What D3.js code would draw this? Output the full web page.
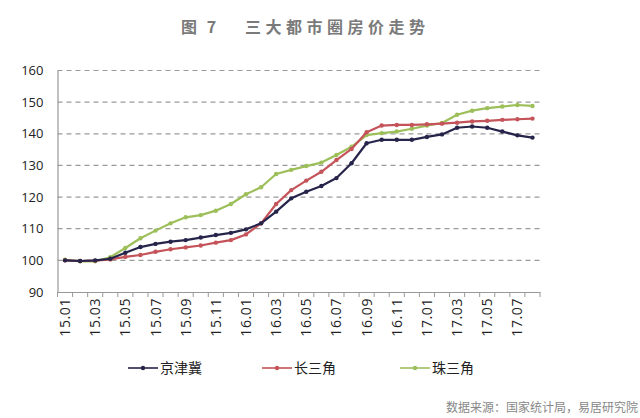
<!DOCTYPE html>
<html><head><meta charset="utf-8">
<script src="https://cdn.jsdelivr.net/npm/d3@7/dist/d3.min.js"></script>
<style>
html,body{margin:0;padding:0;background:#fff;}
svg{display:block;}
</style></head>
<body>
<svg id="chart" width="640" height="418"></svg>
<script>
const months = ["15.01","15.02","15.03","15.04","15.05","15.06","15.07","15.08","15.09","15.10","15.11","15.12",
  "16.01","16.02","16.03","16.04","16.05","16.06","16.07","16.08","16.09","16.10","16.11","16.12",
  "17.01","17.02","17.03","17.04","17.05","17.06","17.07","17.08"];
const seriesNames = ["京津冀","长三角","珠三角"];
const jingjinji = [100.0,99.8,100.0,100.5,102.4,104.2,105.2,105.9,106.4,107.2,108.0,108.7,
  109.8,111.7,115.4,119.6,121.7,123.5,126.0,130.7,137.0,138.1,138.1,138.1,
  139.0,139.8,141.9,142.3,141.9,140.7,139.5,138.8];
const changsanjiao = [100.0,99.8,99.9,100.3,101.1,101.7,102.7,103.5,104.1,104.7,105.6,106.4,
  108.2,111.7,117.8,122.2,125.2,128.0,131.7,135.2,140.5,142.6,142.8,142.8,
  143.0,143.2,143.5,143.9,144.1,144.4,144.6,144.8];
const zhusanjiao = [100.2,99.7,99.7,101.0,103.9,107.0,109.4,111.7,113.6,114.3,115.7,117.8,
  120.9,123.1,127.3,128.6,129.8,130.9,133.3,135.9,139.6,140.2,140.7,141.6,
  142.6,143.4,146.0,147.3,148.1,148.6,149.1,148.8];
const yTicks = [90,100,110,120,130,140,150,160];
const colors = ["#26244a","#c4545a","#9dbf5a"];

const svg = d3.select("#chart");
const mLeft = 57.5, mRight = 540, mTop = 70.5, mBottom = 292;

const x = d3.scaleBand().domain(months).range([mLeft, mRight]).padding(0);
const y = d3.scaleLinear().domain([90,160]).range([mBottom, mTop]);

// title
const title = svg.append("text").attr("y", 33).attr("fill","#7a7a7a")
  .attr("font-family","'Noto Sans CJK SC', sans-serif").attr("font-size",16).attr("font-weight","bold");
title.append("tspan").attr("x",181).attr("letter-spacing","3").text("图 7");
title.append("tspan").attr("x",245).attr("letter-spacing","4.5").text("三大都市圈房价走势");

// gridlines
svg.append("g").selectAll("line").data(yTicks.filter(d=>d>90)).join("line")
  .attr("x1", mLeft).attr("x2", mRight)
  .attr("y1", d=>y(d)).attr("y2", d=>y(d))
  .attr("stroke","#9a9a9a").attr("stroke-width",1.2).attr("stroke-dasharray","5,4");

// y axis
const yAxis = svg.append("g").attr("transform",`translate(${mLeft},0)`)
  .call(d3.axisLeft(y).tickValues(yTicks).tickSize(0).tickPadding(14));
yAxis.select(".domain").attr("stroke","#999").attr("stroke-width",1.2);
yAxis.selectAll("text").attr("font-family","'Open Sans', sans-serif").attr("font-size",13).attr("fill","#222");

// x axis
const xAxis = svg.append("g").attr("transform",`translate(0,${mBottom})`)
  .call(d3.axisBottom(x).tickValues([]).tickSizeOuter(0));
xAxis.select(".domain").attr("stroke","#999").attr("stroke-width",1.2);
const bounds = months.map(m=>x(m)).concat([mRight]);
xAxis.selectAll("line.tk").data(bounds).join("line").attr("class","tk")
  .attr("x1",d=>d).attr("x2",d=>d).attr("y1",0).attr("y2",5)
  .attr("stroke","#999").attr("stroke-width",1);
xAxis.selectAll("text.lbl").data(months.filter((m,i)=>i%2===0)).join("text").attr("class","lbl")
  .attr("transform", d=>`translate(${x(d)+x.bandwidth()/2+5},6) rotate(-90)`)
  .attr("text-anchor","end")
  .attr("font-family","'Open Sans', sans-serif").attr("font-size",14).attr("letter-spacing","0.6").attr("fill","#222")
  .text(d=>d);

// lines
const data = [jingjinji, changsanjiao, zhusanjiao];
const line = d3.line().x((d,i)=>x(months[i])+x.bandwidth()/2).y(d=>y(d));
const order = [2,1,0];
order.forEach(k=>{
  const g = svg.append("g");
  g.append("path").attr("d", line(data[k])).attr("fill","none")
    .attr("stroke", colors[k]).attr("stroke-width",2.2).attr("stroke-linejoin","round");
  g.selectAll("circle").data(data[k]).join("circle")
    .attr("cx",(d,i)=>x(months[i])+x.bandwidth()/2).attr("cy",d=>y(d)).attr("r",2.2)
    .attr("fill",colors[k]);
});

// legend
const legX = [128, 262, 400];
seriesNames.forEach((n,k)=>{
  const g = svg.append("g").attr("transform",`translate(${legX[k]},368)`);
  g.append("line").attr("x1",0).attr("x2",30).attr("y1",0).attr("y2",0)
    .attr("stroke",colors[k]).attr("stroke-width",1.6);
  g.append("circle").attr("cx",15).attr("cy",0).attr("r",2.2).attr("fill",colors[k]);
  g.append("text").attr("x",32).attr("y",5).attr("font-family","'Noto Sans CJK SC', sans-serif")
    .attr("font-size",14).attr("fill","#222").text(n);
});

// source
svg.append("text").attr("x",638).attr("y",412).attr("text-anchor","end")
  .attr("font-family","'Noto Sans CJK SC', sans-serif").attr("font-size",12).attr("fill","#888")
  .text("数据来源：国家统计局，易居研究院");
</script>
</body></html>
